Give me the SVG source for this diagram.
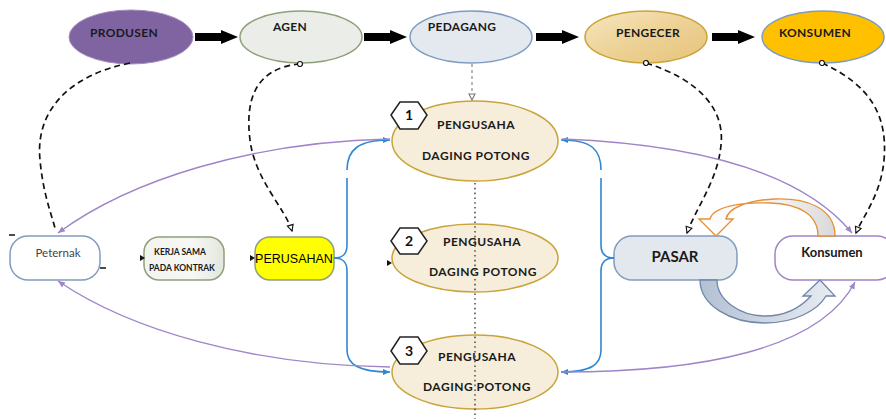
<svg xmlns="http://www.w3.org/2000/svg" width="886" height="419" viewBox="0 0 886 419">
<defs>
<style>
.lbl{font-family:Lato,"Open Sans","Liberation Sans",sans-serif;font-weight:bold;fill:#1a1a1a;text-anchor:middle}
.top{font-size:12px;letter-spacing:0.3px}
.pg{font-size:12px;letter-spacing:0.5px}
.hex{fill:#fff;stroke:#222;stroke-width:1.5}
.num{font-family:Lato,"Liberation Sans",sans-serif;font-weight:bold;font-size:14px;fill:#111;text-anchor:middle}
.peng{fill:#F6EDDB;stroke:#C9A43A;stroke-width:1.5}
.dash{fill:none;stroke:#111;stroke-width:1.7;stroke-dasharray:6 4}
.blue{fill:none;stroke:#2F87D3;stroke-width:1.6}
.purp{fill:none;stroke:#9E85C9;stroke-width:1.4}
.blk{fill:#000}
</style>
<linearGradient id="gPeng" x1="0" y1="0" x2="1" y2="1">
<stop offset="0" stop-color="#F7E6C0"/><stop offset="0.5" stop-color="#EDD296"/><stop offset="1" stop-color="#E6C37A"/>
</linearGradient>
<linearGradient id="gKer" x1="0" y1="0" x2="1" y2="0">
<stop offset="0" stop-color="#F3F4F0"/><stop offset="0.6" stop-color="#F7F8F5"/><stop offset="1" stop-color="#E3E6DE"/>
</linearGradient>
<linearGradient id="gOr" x1="0" y1="0" x2="1" y2="0">
<stop offset="0" stop-color="#FFFFFF"/><stop offset="0.6" stop-color="#F2F2F2"/><stop offset="1" stop-color="#D9D9D9"/>
</linearGradient>
<linearGradient id="gBl" x1="0" y1="0" x2="1" y2="0">
<stop offset="0" stop-color="#B3C0D4"/><stop offset="1" stop-color="#E9EDF2"/>
</linearGradient>
<path id="blockArrow" d="M0,-4 L26,-4 L26,-7 L43,0 L26,7 L26,4 L0,4 Z"/>
<marker id="mCirc" markerWidth="8" markerHeight="8" refX="4" refY="4" markerUnits="userSpaceOnUse" orient="auto">
<circle cx="4" cy="4" r="2.5" fill="#fff" stroke="#111" stroke-width="1.2"/>
</marker>
<marker id="mTri" markerWidth="10" markerHeight="10" refX="7" refY="4" markerUnits="userSpaceOnUse" orient="auto">
<path d="M1,1 L7,4 L1,7 Z" fill="#fff" stroke="#111" stroke-width="1.1"/>
</marker>
<marker id="mTriG" markerWidth="10" markerHeight="10" refX="7" refY="4" markerUnits="userSpaceOnUse" orient="auto">
<path d="M1,1 L7,4 L1,7 Z" fill="#fff" stroke="#777" stroke-width="1.1"/>
</marker>
<marker id="mBlue" markerWidth="10" markerHeight="10" refX="7" refY="4" markerUnits="userSpaceOnUse" orient="auto">
<path d="M0,1 L7,4 L0,7 Z" fill="#2F87D3"/>
</marker>
<marker id="mPurp" markerWidth="10" markerHeight="10" refX="7" refY="4" markerUnits="userSpaceOnUse" orient="auto">
<path d="M0,1 L7,4 L0,7 Z" fill="#9E85C9"/>
</marker>
</defs>
<rect width="886" height="419" fill="#fff"/>

<g id="produsen">
<ellipse cx="131" cy="37" rx="62" ry="27" fill="#8064A2" stroke="#A48FC0" stroke-width="1"/>
<text class="lbl top" x="124" y="37">PRODUSEN</text>
</g>
<g id="agen">
<ellipse cx="301" cy="37" rx="61" ry="26" fill="#EBEEE8" stroke="#8FA07C" stroke-width="1.5"/>
<text class="lbl top" x="290" y="31">AGEN</text>
</g>
<g id="pedagang">
<ellipse cx="471" cy="37" rx="61" ry="26" fill="#E4E8EF" stroke="#7F9CC0" stroke-width="1.5"/>
<text class="lbl top" x="462" y="31">PEDAGANG</text>
</g>
<g id="pengecer">
<ellipse cx="646" cy="37" rx="61" ry="26" fill="url(#gPeng)" stroke="#C9A43A" stroke-width="1.5"/>
<text class="lbl top" x="648" y="37">PENGECER</text>
</g>
<g id="konsumen-top">
<ellipse cx="823" cy="37" rx="61" ry="26" fill="#FFC000" stroke="#7F9CC0" stroke-width="1.5"/>
<text class="lbl top" x="815" y="37">KONSUMEN</text>
</g>

<g id="pengusaha1">
<ellipse class="peng" cx="475" cy="141" rx="83" ry="40"/>
<text class="lbl pg" x="476" y="129">PENGUSAHA</text>
<text class="lbl pg" x="476" y="160">DAGING POTONG</text>
<polygon class="hex" points="391,115 400,102 418,102 427,115 418,129 400,129"/>
<text class="num" x="409" y="120">1</text>
</g>
<g id="pengusaha2">
<ellipse class="peng" cx="475" cy="258" rx="83" ry="34"/>
<text class="lbl pg" x="482" y="246">PENGUSAHA</text>
<text class="lbl pg" x="483" y="276">DAGING POTONG</text>
<polygon class="hex" points="391,241 400,228 418,228 427,241 418,254 400,254"/>
<text class="num" x="409" y="246">2</text>
</g>
<g id="pengusaha3">
<ellipse class="peng" cx="475" cy="372" rx="83" ry="37"/>
<text class="lbl pg" x="477" y="361">PENGUSAHA</text>
<text class="lbl pg" x="477" y="391">DAGING POTONG</text>
<polygon class="hex" points="391,351 400,337 418,337 427,351 418,364 400,364"/>
<text class="num" x="409" y="356">3</text>
</g>

<g id="peternak">
<rect x="10" y="236" width="90" height="44" rx="18" fill="#fff" stroke="#7F9CC0" stroke-width="1.5"/>
<text x="58" y="257" font-family="Lato,'Open Sans','Liberation Sans',sans-serif" font-size="11.5" fill="#444" text-anchor="middle">Peternak</text>
</g>
<g id="kerjasama">
<rect x="144" y="237" width="80" height="43" rx="15" fill="url(#gKer)" stroke="#8FA07C" stroke-width="1.5"/>
<text class="lbl" x="180" y="255" font-size="8.5">KERJA SAMA</text>
<text class="lbl" x="182" y="271" font-size="8.5">PADA KONTRAK</text>
</g>
<g id="perusahan">
<rect x="255" y="237" width="79" height="43" rx="15" fill="#FFFF00" stroke="#8FA07C" stroke-width="1.5"/>
<text x="294" y="263" font-family="'Liberation Sans',Arial,sans-serif" font-size="12.5" fill="#000" text-anchor="middle">PERUSAHAN</text>
</g>
<g id="pasar">
<rect x="614" y="236" width="123" height="44" rx="18" fill="#E3E8EF" stroke="#7F9CC0" stroke-width="1.5"/>
<text class="lbl" x="675" y="262" font-size="15">PASAR</text>
</g>
<g id="konsumen">
<rect x="775" y="236" width="120" height="44" rx="18" fill="#fff" stroke="#9E85C9" stroke-width="1.5"/>
<text class="lbl" x="832" y="257" font-size="13">Konsumen</text>
</g>

<g id="connectors">
<use href="#blockArrow" class="blk" x="195" y="37"/>
<use href="#blockArrow" class="blk" x="364" y="37"/>
<use href="#blockArrow" class="blk" x="536" y="37"/>
<use href="#blockArrow" class="blk" x="712" y="37"/>

<path class="dash" d="M130,63 C70,75 35,110 40,160 C43,192 50,210 55,228"/>
<path class="dash" d="M300,64 C255,68 245,100 250,140 C255,180 285,208 292,231" marker-start="url(#mCirc)" marker-end="url(#mTri)"/>
<path class="dash" d="M646,63 C700,80 725,110 721,145 C718,180 695,210 687,233" marker-start="url(#mCirc)" marker-end="url(#mTri)"/>
<path class="dash" d="M822,63 C870,85 888,115 884,160 C881,195 862,218 856,233" marker-start="url(#mCirc)" marker-end="url(#mTri)"/>
<path d="M472,64 L472,100" fill="none" stroke="#888" stroke-width="1.2" stroke-dasharray="3 3" marker-end="url(#mTriG)"/>
<path d="M475,183 L475,419" fill="none" stroke="#555" stroke-width="1.6" stroke-dasharray="1.6 3.2"/>

<path class="blue" d="M347,170 C347,150 358,140 390,140" marker-end="url(#mBlue)"/>
<path class="blue" d="M334,258 C344,258 347,253 347,245 L347,178"/>
<path class="blue" d="M334,258 C344,258 347,263 347,271 L347,350 C347,364 358,372 390,372" marker-end="url(#mBlue)"/>
<path class="blue" d="M601,170 C601,150 592,140 561,140" marker-end="url(#mBlue)"/>
<path class="blue" d="M614,258 C605,258 601,253 601,245 L601,178"/>
<path class="blue" d="M614,258 C605,258 601,263 601,271 L601,350 C601,364 592,372 561,372" marker-end="url(#mBlue)"/>

<path class="purp" d="M562,139 C690,144 800,170 852,233" marker-end="url(#mPurp)"/>
<path class="purp" d="M390,139 C250,142 130,180 58,233" marker-end="url(#mPurp)"/>
<path class="purp" d="M390,367 C250,365 130,330 58,281" marker-end="url(#mPurp)"/>
<path class="purp" d="M562,372 C700,372 820,350 855,282" marker-end="url(#mPurp)"/>

<path d="M140,255 L145,258 L140,261 Z" fill="#111"/>
<path d="M250,255 L255,258 L250,261 Z" fill="#111"/>
<path d="M387,260 L392,263 L387,266 Z" fill="#111"/>
<path d="M9,235 L15,235" stroke="#111" stroke-width="1.5"/>
<path d="M100,268 L106,268" stroke="#111" stroke-width="1.5"/>

<path d="M835,236 C835,207 805,198 775,199 C748,200 728,208 726,219 L733,219 L716,236 L699,219 L710,219 C713,207 740,202 770,203 C800,204 818,215 818,236 Z" fill="url(#gOr)" stroke="#E5913A" stroke-width="1.4"/>
<path d="M700,280 C700,305 730,323 765,323 C795,323 818,310 826,296 L835,296 L820,280 L803,296 L811,296 C800,308 785,316 765,316 C740,316 717,300 717,280 Z" fill="url(#gBl)" stroke="#6F87A8" stroke-width="1.3"/>
</g>
</svg>
